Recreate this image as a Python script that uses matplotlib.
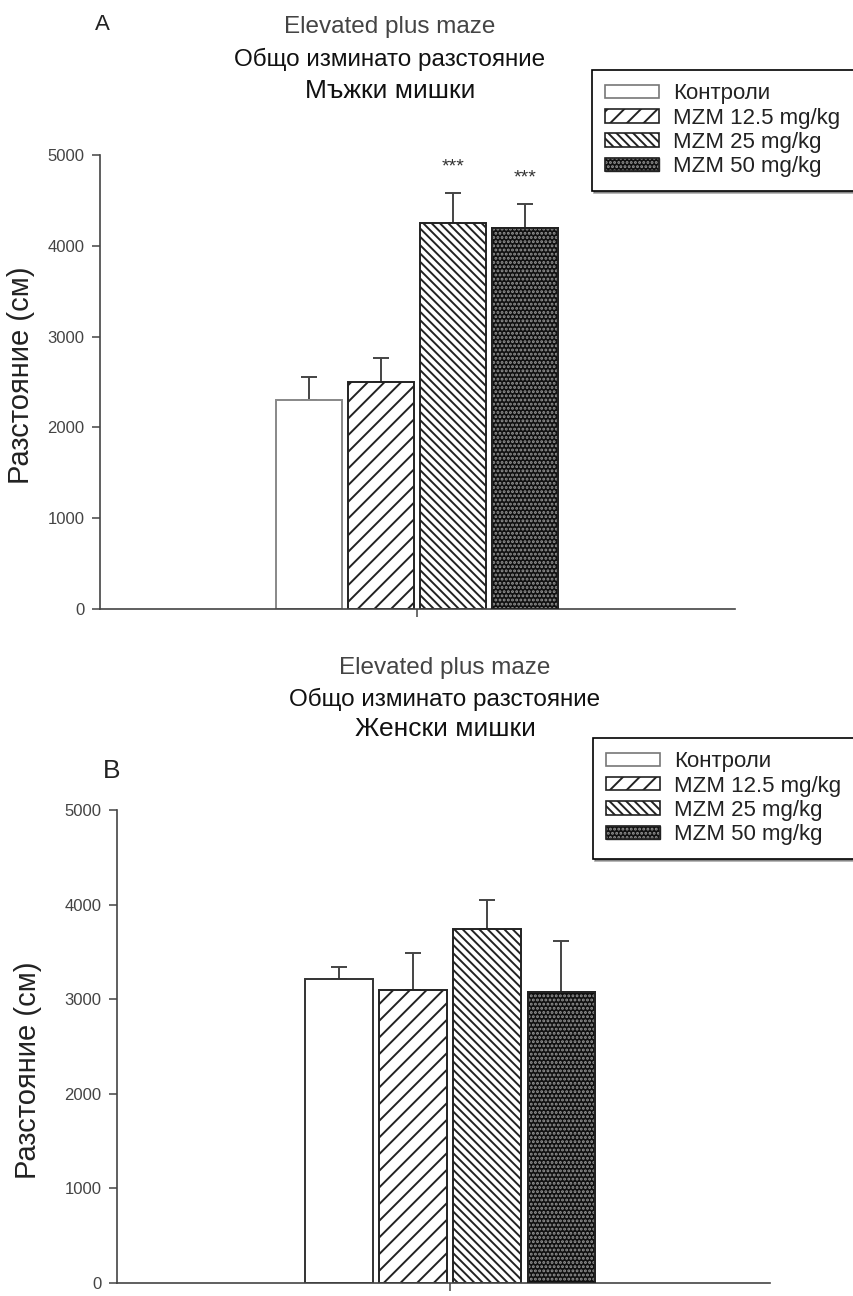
import matplotlib
matplotlib.use("Agg")
import matplotlib.pyplot as plt
from matplotlib.patches import Patch
from matplotlib.legend_handler import HandlerTuple

plt.rcParams['font.family'] = ['Liberation Sans', 'DejaVu Sans']
plt.rcParams['hatch.linewidth'] = 1.4

groups = ["Контроли", "MZM 12.5 mg/kg", "MZM 25 mg/kg", "MZM 50 mg/kg"]
male_mean = [2300, 2500, 4250, 4200]
male_err = [260, 260, 330, 260]
male_sig = ["", "", "***", "***"]
female_mean = [3210, 3100, 3740, 3080]
female_err = [130, 390, 310, 530]
yticks = [0, 1000, 2000, 3000, 4000, 5000]

hatches = [None, '//', '\\\\\\\\', None]
positions = [-1.5, -0.5, 0.5, 1.5]
DARK = '#222222'
DOT_FACE = '#101010'
DOT_COLOR = '#959595'

fig = plt.figure(figsize=(8.54, 12.96), dpi=100)


def draw_panel(ax, means, errs, sig, xlim, width, edge0):
    for i, (p, m, e) in enumerate(zip(positions, means, errs)):
        if i == 0:
            ax.bar(p, m, width, color='white', edgecolor=edge0, linewidth=1.4, zorder=2)
        elif i in (1, 2):
            ax.bar(p, m, width, color='white', edgecolor=DARK, hatch=hatches[i],
                   linewidth=1.4, zorder=2)
        else:
            ax.bar(p, m, width, color=DOT_FACE, edgecolor=DARK, linewidth=1.4, zorder=2)
            ax.bar(p, m, width, fill=False, edgecolor=DOT_COLOR, hatch='....',
                   linewidth=0, zorder=3)
            ax.bar(p, m, width, fill=False, edgecolor=DARK, linewidth=1.4, zorder=4)
        ax.errorbar(p, m, yerr=[[0], [e]], fmt='none', ecolor='#444444',
                    elinewidth=1.4, capsize=6, capthick=1.4, zorder=1)
        if sig and sig[i]:
            ax.text(p, m + e + 290, sig[i], ha='center', va='center', fontsize=14,
                    color='#333333')
    ax.set_xlim(*xlim)
    ax.set_ylim(0, 5000)
    ax.set_yticks(yticks)
    ax.set_yticklabels([str(t) for t in yticks], fontsize=12, color='#444444')
    ax.set_xticks([0])
    ax.set_xticklabels([''])
    ax.tick_params(axis='both', direction='out', length=6, width=1.1, color='#444444', pad=5)
    for s in ('top', 'right'):
        ax.spines[s].set_visible(False)
    for s in ('left', 'bottom'):
        ax.spines[s].set_color('#444444')
        ax.spines[s].set_linewidth(1.2)


def legend_handles():
    dots = (Patch(facecolor=DOT_FACE, edgecolor=DARK),
            Patch(fill=False, edgecolor=DOT_COLOR, hatch='....', linewidth=0),
            Patch(fill=False, edgecolor=DARK, linewidth=1.2))
    h = [Patch(facecolor='white', edgecolor='#777777', linewidth=1.2),
         Patch(facecolor='white', edgecolor=DARK, hatch='//', linewidth=1.2),
         Patch(facecolor='white', edgecolor=DARK, hatch='\\\\\\\\', linewidth=1.2),
         dots]
    return h


axA = fig.add_axes([100 / 854, 1 - 609 / 1296, 635 / 854, 454 / 1296])
draw_panel(axA, male_mean, male_err, male_sig, (-4.4, 4.42), 0.92, '#888888')

axB = fig.add_axes([117 / 854, 1 - 1283 / 1296, 653 / 854, 473 / 1296])
draw_panel(axB, female_mean, female_err, None, (-4.5, 4.32), 0.91, '#333333')

titles = [(390, [27, 59, 91], "Мъжки мишки"), (445, [668, 699, 729], "Женски мишки")]
for cx, ys, sub in titles:
    fig.text(cx / 854, 1 - ys[0] / 1296, "Elevated plus maze", ha='center', va='center',
             fontsize=17.5, color='#444444')
    fig.text(cx / 854, 1 - ys[1] / 1296, "Общо изминато разстояние", ha='center', va='center',
             fontsize=17.5, color='#111111')
    fig.text(cx / 854, 1 - ys[2] / 1296, sub, ha='center', va='center',
             fontsize=19, color='#111111')

fig.text(102 / 854, 1 - 25 / 1296, "A", ha='center', va='center', fontsize=16, color='#222222')
fig.text(112 / 854, 1 - 771 / 1296, "B", ha='center', va='center', fontsize=19, color='#222222')

fig.text(21 / 854, 1 - 375 / 1296, "Разстояние (см)", rotation=90, ha='center', va='center',
         fontsize=21, color='#222222')
fig.text(28 / 854, 1 - 1070 / 1296, "Разстояние (см)", rotation=90, ha='center', va='center',
         fontsize=21, color='#222222')

for loc in [(592 / 854, 1 - 70 / 1296), (593 / 854, 1 - 738 / 1296)]:
    leg = fig.legend(handles=legend_handles(), labels=groups, loc='upper left',
                     bbox_to_anchor=loc, borderaxespad=0,
                     handler_map={tuple: HandlerTuple(ndivide=1, pad=0)},
                     fontsize=16, frameon=True, fancybox=False,
                     shadow={'ox': 1.5, 'oy': -1.5, 'color': '#555555'},
                     edgecolor='black', handlelength=2.4, handleheight=0.55,
                     labelspacing=0.15, borderpad=0.6, handletextpad=0.65,
                     labelcolor='#222222')
    leg.get_frame().set_linewidth(1.2)

fig.savefig("out.png", dpi=100)
